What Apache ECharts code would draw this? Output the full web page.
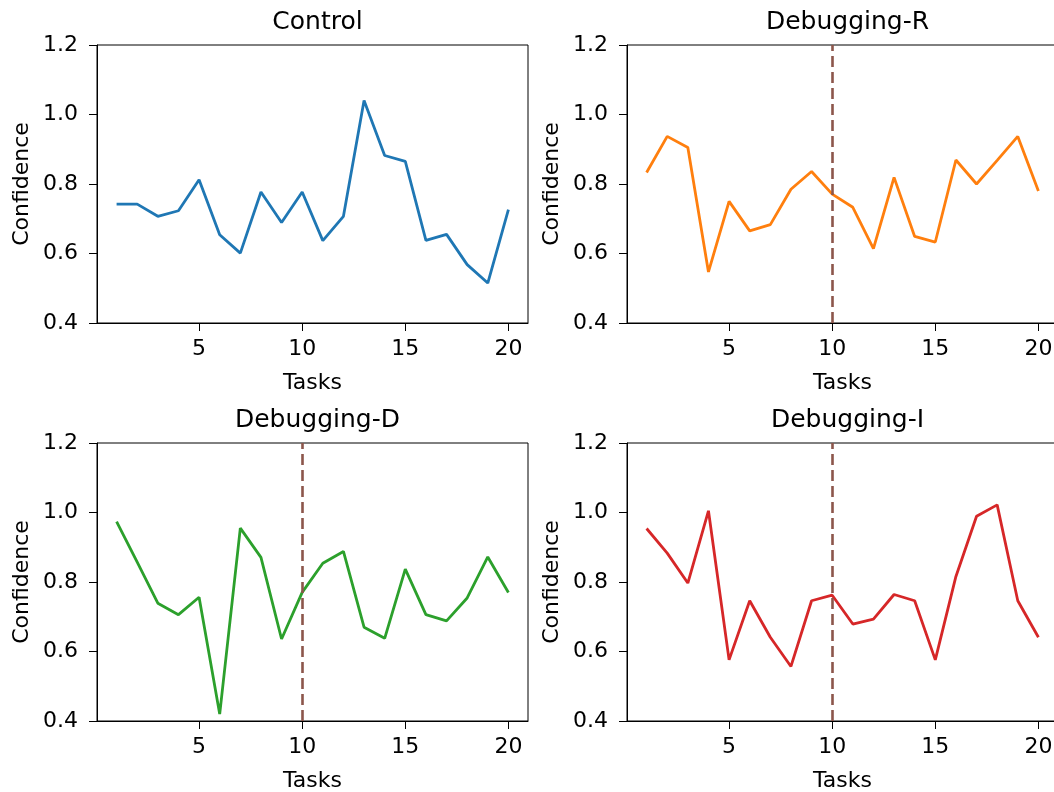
<!doctype html>
<html lang="en">
  <head>
    <meta charset="utf-8">
    <title>Confidence per task</title>
    <script src="https://cdn.jsdelivr.net/npm/echarts@6/dist/echarts.min.js"></script>
    <style>
      html, body { margin: 0; padding: 0; background: #fff; overflow: hidden; }
      #chart { width: 1054px; height: 792px; }
    </style>
  </head>
  <body>
    <div id="chart"></div>

  <script>
    // data
    var tasks = [1, 2, 3, 4, 5, 6, 7, 8, 9, 10, 11, 12, 13, 14, 15, 16, 17, 18, 19, 20];
    var xTicks = [5, 10, 15, 20];
    var yTicks = [0.4, 0.6, 0.8, 1.0, 1.2];
    var splitTask = 10;

    var panelTitles = ['Control', 'Debugging-R', 'Debugging-D', 'Debugging-I'];
    var panelColors = ['#1f77b4', '#ff7f0e', '#2ca02c', '#d62728'];
    var splitColor = '#8c564b';

    var dataControl = [0.742, 0.742, 0.707, 0.723, 0.812, 0.654, 0.601, 0.777, 0.689, 0.777,
                       0.637, 0.707, 1.040, 0.882, 0.865, 0.638, 0.655, 0.568, 0.515, 0.726];
    var dataDebugR  = [0.833, 0.937, 0.905, 0.547, 0.750, 0.665, 0.683, 0.785, 0.836, 0.771,
                       0.733, 0.614, 0.819, 0.649, 0.633, 0.869, 0.800, 0.868, 0.937, 0.780];
    var dataDebugD  = [0.974, 0.857, 0.739, 0.706, 0.756, 0.420, 0.955, 0.871, 0.636, 0.770,
                       0.854, 0.888, 0.670, 0.638, 0.837, 0.706, 0.688, 0.754, 0.872, 0.770];
    var dataDebugI  = [0.954, 0.883, 0.797, 1.005, 0.576, 0.746, 0.641, 0.557, 0.746, 0.762,
                       0.679, 0.693, 0.764, 0.746, 0.576, 0.816, 0.989, 1.022, 0.746, 0.641];

    var panelData = [dataControl, dataDebugR, dataDebugD, dataDebugI];
    var hasSplit = [false, true, true, true];

    var font = 'DejaVu Sans';
    var gridLefts = [97, 627, 97, 627];
    var gridTops = [45, 45, 443, 443];
    var gridW = 431, gridH = 278;

    var grids = [], xAxes = [], yAxes = [], series = [], titles = [];

    for (var i = 0; i < 4; i++) {
      // right column runs past the window edge like the reference
      grids.push({
        left: gridLefts[i], top: gridTops[i], width: gridW, height: gridH,
        outerBoundsMode: 'none', containLabel: false,
        show: true, borderColor: '#000', borderWidth: 1, backgroundColor: 'transparent'
      });
      titles.push({
        text: panelTitles[i],
        left: gridLefts[i] + gridW / 2, top: gridTops[i] - 40,
        textAlign: 'center',
        textStyle: { fontFamily: font, fontSize: 25, fontWeight: 'normal', color: '#000' }
      });
      xAxes.push({
        gridIndex: i, type: 'value', min: 0.05, max: 20.95,
        name: 'Tasks', nameLocation: 'middle', nameGap: 49,
        nameTextStyle: { fontFamily: font, fontSize: 22, color: '#000' },
        axisLine: { show: true, onZero: false, lineStyle: { color: '#000', width: 1 } },
        axisTick: { show: true, inside: false, length: 8, customValues: xTicks, lineStyle: { color: '#000' } },
        axisLabel: { customValues: xTicks, margin: 15, fontFamily: font, fontSize: 22, color: '#000' },
        splitLine: { show: false }
      });
      yAxes.push({
        gridIndex: i, type: 'value', min: 0.4, max: 1.2,
        name: 'Confidence', nameLocation: 'middle', nameGap: 64, nameRotate: 90,
        nameTextStyle: { fontFamily: font, fontSize: 22, color: '#000' },
        axisLine: { show: true, onZero: false, lineStyle: { color: '#000', width: 1 } },
        axisTick: { show: true, inside: false, length: 8, customValues: yTicks, lineStyle: { color: '#000' } },
        axisLabel: {
          customValues: yTicks, margin: 19, fontFamily: font, fontSize: 22, color: '#000',
          formatter: function (v) { return v.toFixed(1); }
        },
        splitLine: { show: false }
      });

      var pts = tasks.map(function (t, k) { return [t, panelData[i][k]]; });
      var s = {
        type: 'line', xAxisIndex: i, yAxisIndex: i,
        data: pts, showSymbol: false, symbol: 'none',
        lineStyle: { color: panelColors[i], width: 2.8 },
        itemStyle: { color: panelColors[i] },
        animation: false, silent: true
      };
      if (hasSplit[i]) {
        s.markLine = {
          silent: true, symbol: 'none', animation: false,
          label: { show: false },
          lineStyle: { color: splitColor, type: [11, 5], width: 2.6 },
          data: [{ xAxis: splitTask }]
        };
      }
      series.push(s);
    }

    var chart = echarts.init(document.getElementById('chart'), null, { renderer: 'canvas' });
    chart.setOption({
      animation: false,
      backgroundColor: '#fff',
      title: titles,
      grid: grids,
      xAxis: xAxes,
      yAxis: yAxes,
      series: series
    });
  </script>
  </body>
</html>
